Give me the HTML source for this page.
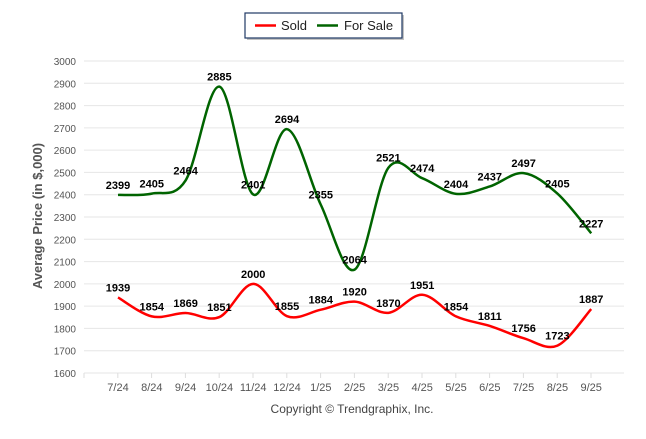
<!DOCTYPE html>
<html><head><meta charset="utf-8"><style>
body{margin:0;background:#fff;font-family:"Liberation Sans",sans-serif}
svg text{font-family:"Liberation Sans",sans-serif}
</style></head><body>
<svg id="c" width="646" height="434">
<g>
<rect x="247" y="15" width="157" height="25" fill="#888" opacity="0.5"/>
<rect x="245" y="13" width="157" height="25" fill="#fff" stroke="#1f3864" stroke-width="1.2"/>
<line x1="255" y1="25.5" x2="276" y2="25.5" stroke="#ff0000" stroke-width="2.5"/>
<text x="281" y="30" font-size="13" fill="#222">Sold</text>
<line x1="317" y1="25.5" x2="338" y2="25.5" stroke="#006400" stroke-width="2.5"/>
<text x="344" y="30" font-size="13" fill="#222">For Sale</text>
</g>
<g id="grid"></g><g id="series"></g><g id="labels"></g>
<text transform="translate(42,216) rotate(-90)" text-anchor="middle" font-size="13" font-weight="bold" fill="#555">Average Price (in $,000)</text>
<text x="352" y="413" text-anchor="middle" font-size="12" fill="#444">Copyright © Trendgraphix, Inc.</text>
</svg>
<script>
const categories=["7/24","8/24","9/24","10/24","11/24","12/24","1/25","2/25","3/25","4/25","5/25","6/25","7/25","8/25","9/25"];
const sold=[1939,1854,1869,1851,2000,1855,1884,1920,1870,1951,1854,1811,1756,1723,1887];
const forSale=[2399,2405,2464,2885,2401,2694,2355,2064,2521,2474,2404,2437,2497,2405,2227];
const yTicks=[1600,1700,1800,1900,2000,2100,2200,2300,2400,2500,2600,2700,2800,2900,3000];
const NS="http://www.w3.org/2000/svg";
const x0=118,dx=33.8,left=84,right=624;
const X=i=>x0+i*dx;
const Y=v=>373-(v-1600)*(312/1400);
function mk(t,a,p){const e=document.createElementNS(NS,t);for(const k in a)e.setAttribute(k,a[k]);p.appendChild(e);return e;}
const grid=document.getElementById('grid');
yTicks.forEach(v=>{
 const l=mk('line',{x1:left,x2:right,y1:Y(v),y2:Y(v),stroke:'#e6e6e6','stroke-width':1},grid);
 
 
 const t=mk('text',{x:76,y:Y(v)+4,'text-anchor':'end','font-size':10,fill:'#555'},grid);
 t.textContent=v;
 
 
});
for(let i=0;i<=categories.length;i++){
 const tx=left+i*dx;
 mk('line',{x1:tx,x2:tx,y1:373,y2:378,stroke:'#ddd'},grid);
}
categories.forEach((c,i)=>{
 const t=mk('text',{x:X(i),y:391,'text-anchor':'middle','font-size':11,fill:'#555'},grid);
 t.textContent=c;
 
 
});
function path(vals){
 const p=vals.map((v,i)=>[X(i),Y(v)]);
 let d='M'+p[0][0]+','+p[0][1];
 const s=0.5;
 for(let i=0;i<p.length-1;i++){
  const a=p[Math.max(0,i-1)],b=p[i],c=p[i+1],e=p[Math.min(p.length-1,i+2)];
  const c1=[b[0]+(c[0]-a[0])*s/3,b[1]+(c[1]-a[1])*s/3];
  const c2=[c[0]-(e[0]-b[0])*s/3,c[1]-(e[1]-b[1])*s/3];
  d+=' C'+c1+' '+c2+' '+c;
 }
 return d;
}
const sg=document.getElementById('series'),lg=document.getElementById('labels');
[[sold,'#ff0000','sold'],[forSale,'#006400','for-sale']].forEach(([vals,col,n])=>{
 const p=mk('path',{d:path(vals),fill:'none',stroke:col,'stroke-width':2.5},sg);
 
 
 vals.forEach((v,i)=>{
  const t=mk('text',{x:X(i),y:Y(v)-6,'text-anchor':'middle','font-size':11,'font-weight':'bold',fill:'#000'},lg);
  t.textContent=v;
  
  
 });
});
</script>
</body></html>
